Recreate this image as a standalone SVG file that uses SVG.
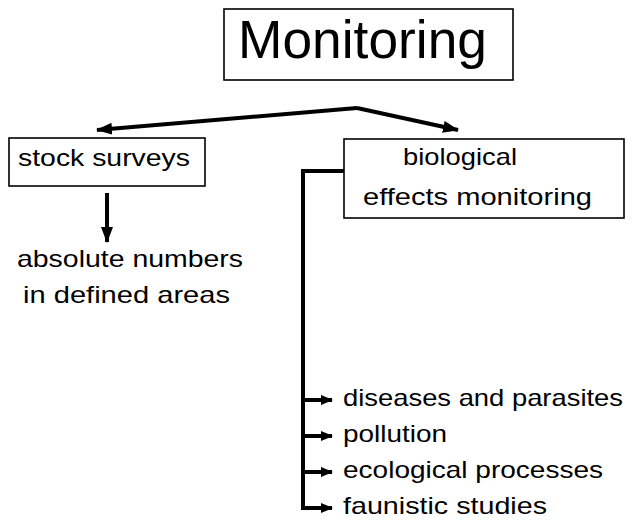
<svg xmlns="http://www.w3.org/2000/svg" width="636" height="529" viewBox="0 0 636 529">
<style>
.box{fill:#fff;stroke:#000;stroke-width:1.6}
.t{font-family:"Liberation Sans",Arial,sans-serif;font-size:24px;fill:#000}
.big{font-family:"Liberation Sans",Arial,sans-serif;font-size:53px;fill:#000}
.c{fill:none;stroke:#000;stroke-width:4;stroke-linejoin:miter}
</style>
<defs>
<marker id="ah" viewBox="0 0 16 12" refX="15" refY="6" markerUnits="userSpaceOnUse" markerWidth="16" markerHeight="12" orient="auto">
<path d="M0,0 L16,6 L0,12 z" fill="#000"/>
</marker>
<marker id="ahs" viewBox="0 0 12 10" refX="11" refY="5" markerUnits="userSpaceOnUse" markerWidth="12" markerHeight="10" orient="auto">
<path d="M0,0 L12,5 L0,10 z" fill="#000"/>
</marker>
</defs>
<g id="monitoring">
<rect class="box" x="224" y="9" width="289" height="71"/>
<text class="big" x="238" y="58" textLength="249" lengthAdjust="spacingAndGlyphs">Monitoring</text>
</g>
<g id="stock-surveys">
<rect class="box" x="9" y="138" width="196" height="48"/>
<text class="t" x="18" y="166" textLength="172" lengthAdjust="spacingAndGlyphs">stock surveys</text>
</g>
<g id="absolute-numbers">
<text class="t" x="17" y="267" textLength="226" lengthAdjust="spacingAndGlyphs">absolute numbers</text>
<text class="t" x="23" y="303" textLength="207" lengthAdjust="spacingAndGlyphs">in defined areas</text>
</g>
<g id="biological-effects">
<rect class="box" x="344" y="139" width="280" height="79"/>
<text class="t" x="403" y="165" textLength="114" lengthAdjust="spacingAndGlyphs">biological</text>
<text class="t" x="363" y="205" textLength="229" lengthAdjust="spacingAndGlyphs">effects monitoring</text>
</g>
<g id="diseases"><text class="t" x="343" y="406" textLength="280" lengthAdjust="spacingAndGlyphs">diseases and parasites</text></g>
<g id="pollution"><text class="t" x="343" y="442" textLength="104" lengthAdjust="spacingAndGlyphs">pollution</text></g>
<g id="ecological"><text class="t" x="343" y="478" textLength="260" lengthAdjust="spacingAndGlyphs">ecological processes</text></g>
<g id="faunistic"><text class="t" x="343" y="514" textLength="204" lengthAdjust="spacingAndGlyphs">faunistic studies</text></g>
<g id="connectors">
<line class="c" x1="357" y1="108" x2="97" y2="130" marker-end="url(#ah)"/>
<line class="c" x1="357" y1="108" x2="458" y2="130" marker-end="url(#ah)"/>
<line class="c" x1="107" y1="193" x2="107" y2="242" marker-end="url(#ah)"/>
<path class="c" d="M344,171 H303 V510"/>
<line class="c" x1="303" y1="400" x2="332" y2="400" marker-end="url(#ahs)"/>
<line class="c" x1="303" y1="436" x2="332" y2="436" marker-end="url(#ahs)"/>
<line class="c" x1="303" y1="472" x2="332" y2="472" marker-end="url(#ahs)"/>
<line class="c" x1="301" y1="508" x2="332" y2="508" marker-end="url(#ahs)"/>
</g>
</svg>
